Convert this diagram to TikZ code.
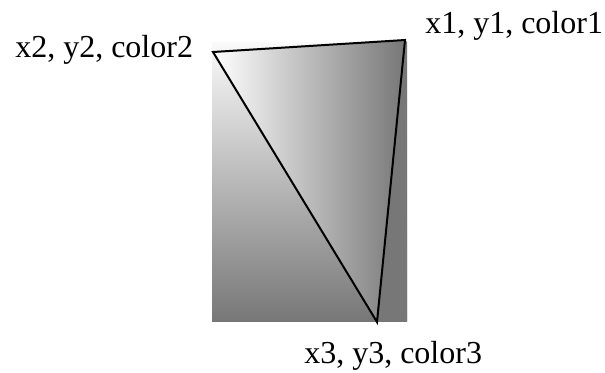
\documentclass[tikz,border=0pt]{standalone}
\usepackage{fontspec}
\setmainfont{Liberation Serif}
\usetikzlibrary{positioning}
\definecolor{shadegray}{HTML}{777777}
\definecolor{shadelight}{HTML}{FAFAFA}

\begin{document}
\begin{tikzpicture}[
  x=0.75pt, y=-0.75pt,
  vlabel/.style={font=\fontsize{24}{28}\selectfont, inner sep=0pt, anchor=base west},
  edge/.style={draw=black, line width=1.5pt, line join=miter}
]
\useasboundingbox (0,0) rectangle (605,372);

% ---------------- Vertices ----------------
\coordinate (v1) at (405,40);
\coordinate (v2) at (213,52);
\coordinate (v3) at (377,322);
\coordinate (boxnw) at (212,42);
\coordinate (boxne) at (407,42);
\coordinate (boxse) at (407,321);

% ---------------- Background shading ----------------
\shade[top color=shadelight, bottom color=shadegray] (boxnw) rectangle (boxse);
\fill[shadegray] (v1) -- (boxne) -- (boxse) -- (v3) -- cycle;

% ---------------- Triangle ----------------
\shade[left color=white, right color=shadegray] (v1) -- (v2) -- (v3) -- cycle;
\draw[edge] (v1) -- (v2) -- (v3) -- cycle;

% ---------------- Labels ----------------
\node[vlabel] (lab1) at (425,33) {x1, y1, color1};
\node[vlabel] (lab2) at (15,57)  {x2, y2, color2};
\node[vlabel] (lab3) at (304,363) {x3, y3, color3};

\end{tikzpicture}
\end{document}
